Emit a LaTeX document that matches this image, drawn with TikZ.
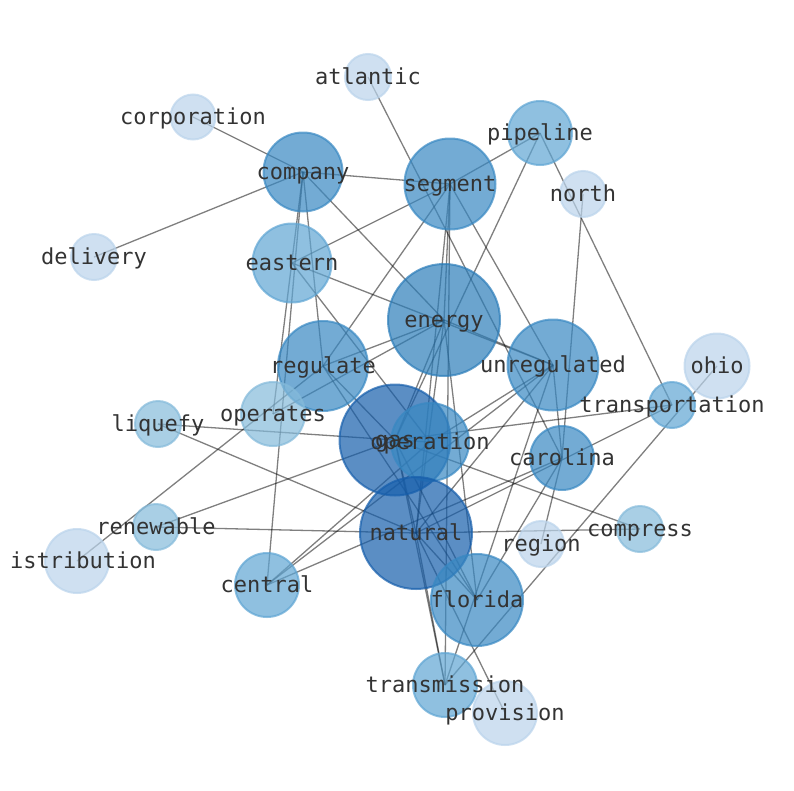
\documentclass[tikz,border=0pt]{standalone}
\usepackage{fontspec}
\setmonofont{DejaVu Sans Mono}
\usetikzlibrary{backgrounds}

\definecolor{blueone}{RGB}{186,211,235}
\definecolor{bluetwo}{RGB}{132,186,218}
\definecolor{bluethree}{RGB}{95,165,211}
\definecolor{bluefour}{RGB}{56,136,194}
\definecolor{bluefive}{RGB}{44,125,185}
\definecolor{bluesix}{RGB}{22,94,171}
\definecolor{wordgray}{RGB}{51,51,51}

\begin{document}
\begin{tikzpicture}[x=1pt,y=-1pt,
  term/.style={circle,inner sep=0pt,minimum size=#1,line width=2pt,fill opacity=0.7,draw opacity=0.7},
  lvone/.style={fill=blueone,draw=blueone},
  lvtwo/.style={fill=bluetwo,draw=bluetwo},
  lvthree/.style={fill=bluethree,draw=bluethree},
  lvfour/.style={fill=bluefour,draw=bluefour},
  lvfive/.style={fill=bluefive,draw=bluefive},
  lvsix/.style={fill=bluesix,draw=bluesix},
  word/.style={font=\ttfamily\fontsize{22}{22}\selectfont,text=wordgray,inner sep=0pt,text height=16pt,text depth=2pt},
  link/.style={draw=black,draw opacity=0.5,line width=1.3pt}]
\useasboundingbox (0,0) rectangle (794,790);

\node[term=46pt,lvone] (atlantic) at (368,77) {};
\node[term=45pt,lvone] (corporation) at (193,117) {};
\node[term=79pt,lvfour] (company) at (303,172) {};
\node[term=46pt,lvone] (delivery) at (94,257) {};
\node[term=79pt,lvthree] (eastern) at (292,263) {};
\node[term=91pt,lvfour] (segment) at (450,184) {};
\node[term=64pt,lvthree] (pipeline) at (540,133) {};
\node[term=46pt,lvone] (north) at (583,194) {};
\node[term=112pt,lvfive] (energy) at (444,320) {};
\node[term=91pt,lvfour] (unregulated) at (553,365) {};
\node[term=65pt,lvone] (ohio) at (717,366) {};
\node[term=46pt,lvthree] (transportation) at (672,405) {};
\node[term=64pt,lvfour] (carolina) at (562,458) {};
\node[term=46pt,lvtwo] (compress) at (640,529) {};
\node[term=46pt,lvone] (region) at (541,544) {};
\node[term=90pt,lvfour] (regulate) at (323,366) {};
\node[term=64pt,lvtwo] (operates) at (273,414) {};
\node[term=46pt,lvtwo] (liquefy) at (158,424) {};
\node[term=46pt,lvtwo] (renewable) at (156,527) {};
\node[term=64pt,lvone] (distribution) at (77,561) {};
\node[term=64pt,lvthree] (central) at (267,585) {};
\node[term=111pt,lvsix] (gas) at (395,440) {};
\node[term=78pt,lvfour] (operation) at (430,442) {};
\node[term=112pt,lvsix] (natural) at (416,533) {};
\node[term=92pt,lvfour] (florida) at (477,600) {};
\node[term=64pt,lvthree] (transmission) at (445,685) {};
\node[term=64pt,lvone] (provision) at (505,713) {};

\begin{scope}[on background layer]
\draw[link] (company.center) edge (corporation.center) edge (delivery.center) edge (segment.center)
  edge (operates.center) edge (central.center) edge (regulate.center) edge (energy.center);
\draw[link] (segment.center) edge (pipeline.center) edge (eastern.center) edge (regulate.center)
  edge (energy.center) edge (natural.center) edge (transmission.center) edge (unregulated.center);
\draw[link] (atlantic.center) edge (carolina.center);
\draw[link] (pipeline.center) edge (gas.center) edge (transportation.center);
\draw[link] (north.center) edge (carolina.center);
\draw[link] (eastern.center) edge (unregulated.center) edge (operation.center);
\draw[link] (regulate.center) edge (energy.center) edge (gas.center) edge (florida.center) edge (distribution.center);
\draw[link] (operates.center) edge (energy.center);
\draw[link] (liquefy.center) edge (gas.center) edge (natural.center);
\draw[link] (renewable.center) edge (gas.center) edge (natural.center);
\draw[link] (central.center) edge (operation.center) edge (unregulated.center) edge (carolina.center);
\draw[link] (energy.center) edge (unregulated.center) edge (gas.center) edge (natural.center) edge (florida.center);
\draw[link] (unregulated.center) edge (operation.center) edge (natural.center) edge (carolina.center) edge (transmission.center);
\draw[link] (carolina.center) edge (region.center) edge (florida.center);
\draw[link] (gas.center) edge (transmission.center) edge (florida.center) edge (operation.center)
  edge (natural.center) edge (transportation.center) edge (compress.center);
\draw[link] (natural.center) edge (transmission.center) edge (florida.center) edge (provision.center)
  edge (transportation.center) edge (compress.center);
\draw[link] (ohio.center) edge (transmission.center);
\end{scope}

\foreach \n in {atlantic,corporation,company,delivery,eastern,segment,pipeline,north,energy,
  unregulated,ohio,transportation,carolina,compress,region,regulate,operates,liquefy,renewable,
  central,gas,operation,natural,florida,transmission,provision}
  \node[word] (\n-w) at (\n) {\n};
\node[word] (distribution-w) at (83,561) {istribution};
\end{tikzpicture}
\end{document}
